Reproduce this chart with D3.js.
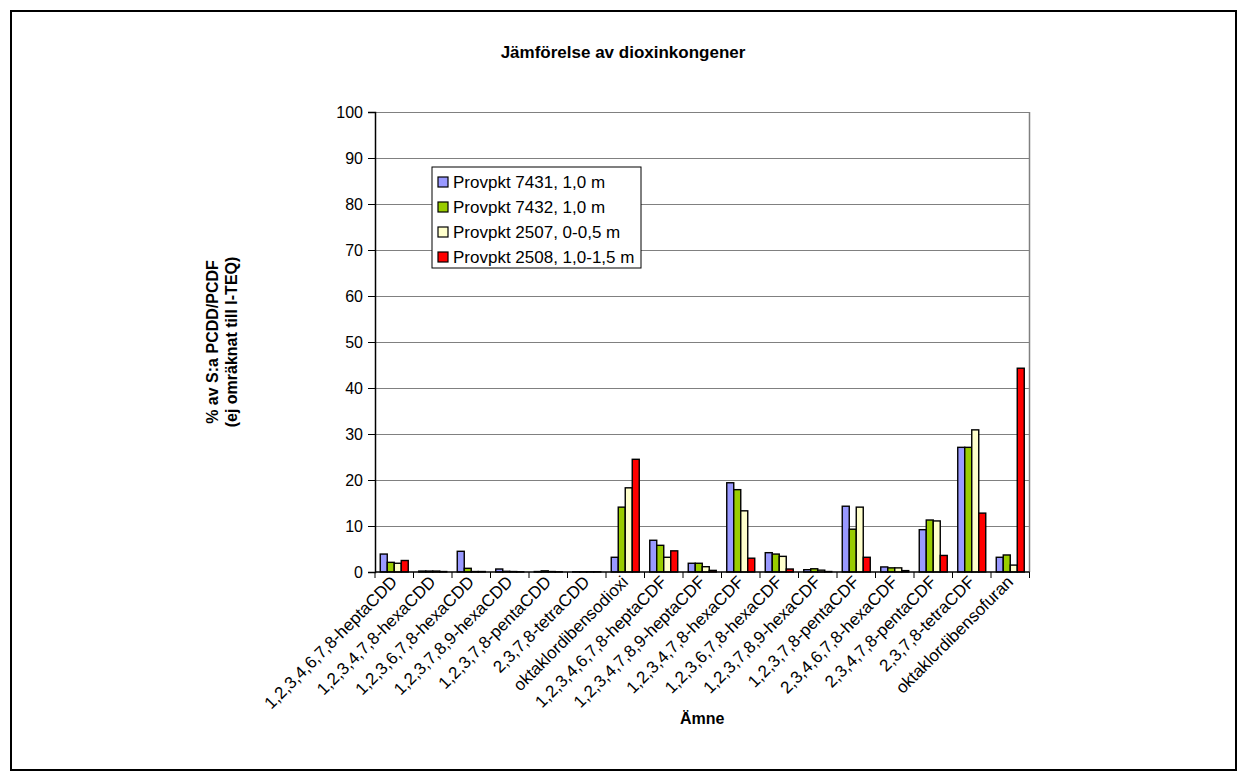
<!DOCTYPE html>
<html>
<head>
<meta charset="utf-8">
<script src="https://cdn.jsdelivr.net/npm/d3@7"></script>
<style>
  body { margin: 0; background: #fff; }
  svg { display: block; }
  text { font-family: "Liberation Sans", Arial, sans-serif; fill: #000; }
</style>
</head>
<body>
<svg id="chart" width="1247" height="776"></svg>
<script>
// Congener names (x categories)
const categories = [
  "1,2,3,4,6,7,8-heptaCDD",
  "1,2,3,4,7,8-hexaCDD",
  "1,2,3,6,7,8-hexaCDD",
  "1,2,3,7,8,9-hexaCDD",
  "1,2,3,7,8-pentaCDD",
  "2,3,7,8-tetraCDD",
  "oktaklordibensodioxi",
  "1,2,3,4,6,7,8-heptaCDF",
  "1,2,3,4,7,8,9-heptaCDF",
  "1,2,3,4,7,8-hexaCDF",
  "1,2,3,6,7,8-hexaCDF",
  "1,2,3,7,8,9-hexaCDF",
  "1,2,3,7,8-pentaCDF",
  "2,3,4,6,7,8-hexaCDF",
  "2,3,4,7,8-pentaCDF",
  "2,3,7,8-tetraCDF",
  "oktaklordibensofuran"
];

// Sampling points (series)
const seriesNames = [
  "Provpkt 7431, 1,0 m",
  "Provpkt 7432, 1,0 m",
  "Provpkt 2507, 0-0,5 m",
  "Provpkt 2508, 1,0-1,5 m"
];

// % of total PCDD/PCDF per congener
const p7431 = [3.9, 0.2, 4.5, 0.65, 0.1, 0.05, 3.2, 6.9, 1.9, 19.4, 4.2, 0.5, 14.3, 1.1, 9.2, 27.1, 3.2];
const p7432 = [2.1, 0.2, 0.8, 0.15, 0.25, 0.05, 14.1, 5.8, 1.9, 17.9, 3.9, 0.7, 9.3, 0.9, 11.3, 27.1, 3.7];
const p2507 = [1.9, 0.2, 0.1, 0.1, 0.1, 0.05, 18.3, 3.2, 1.15, 13.3, 3.4, 0.4, 14.1, 0.9, 11.1, 30.9, 1.5];
const p2508 = [2.5, 0.1, 0.1, 0.05, 0.05, 0.05, 24.5, 4.6, 0.35, 3.0, 0.65, 0.1, 3.2, 0.3, 3.6, 12.8, 44.3];

const seriesValues = [p7431, p7432, p2507, p2508];
const seriesColors = ["#9999FF", "#99CC00", "#FFFFCC", "#FF0000"];
const yTicks = [0, 10, 20, 30, 40, 50, 60, 70, 80, 90, 100];

const titleText = "Jämförelse av dioxinkongener";
const yTitleLines = ["% av S:a PCDD/PCDF", "(ej omräknat till I-TEQ)"];
const xTitleText = "Ämne";

const svg = d3.select("#chart");
const plot = { left: 375, right: 1029.5, top: 112, bottom: 572 };

// Outer chart frame
svg.append("rect")
  .attr("x", 11).attr("y", 11)
  .attr("width", 1225).attr("height", 759)
  .attr("fill", "#fff").attr("stroke", "#000").attr("stroke-width", 2);

const x = d3.scaleBand().domain(categories).range([plot.left, plot.right]).padding(0);
const gapFrac = 1.5 / 5.5; // gap width 150 % of a bar
const xs = d3.scaleBand().domain(d3.range(seriesNames.length))
  .range([x.step() * gapFrac / 2, x.step() * (1 - gapFrac / 2)]).padding(0);
const y = d3.scaleLinear().domain([0, 100]).range([plot.bottom, plot.top]);

// Gridlines
svg.append("g")
  .selectAll("line").data(yTicks.filter(d => d > 0)).join("line")
  .attr("x1", plot.left).attr("x2", plot.right)
  .attr("y1", d => Math.round(y(d)) + 0.5).attr("y2", d => Math.round(y(d)) + 0.5)
  .attr("stroke", "#808080").attr("stroke-width", 1.2);

// Right plot edge
svg.append("line")
  .attr("x1", plot.right).attr("x2", plot.right)
  .attr("y1", plot.top).attr("y2", plot.bottom)
  .attr("stroke", "#808080").attr("stroke-width", 1.5);

// Bars
const groups = svg.append("g").selectAll("g").data(categories).join("g")
  .attr("transform", d => `translate(${x(d)},0)`);
groups.selectAll("rect")
  .data((d, i) => seriesValues.map((vals, s) => ({ s, v: vals[i] })))
  .join("rect")
  .attr("x", d => xs(d.s))
  .attr("width", xs.bandwidth())
  .attr("y", d => y(d.v))
  .attr("height", d => y(0) - y(d.v))
  .attr("fill", d => seriesColors[d.s])
  .attr("stroke", "#000").attr("stroke-width", 1.4);

// Y axis
const yAxis = d3.axisLeft(y).tickValues(yTicks).tickSize(7).tickPadding(5);
const gy = svg.append("g").attr("transform", `translate(${plot.left},0)`).call(yAxis);
gy.select(".domain").attr("stroke", "#000").attr("stroke-width", 1.5);
gy.selectAll(".tick line").attr("stroke", "#000");
gy.selectAll(".tick text").attr("font-size", 16).attr("font-family", "Liberation Sans, Arial, sans-serif");

// X axis: ticks sit between categories
const xEdges = d3.range(categories.length + 1).map(i => plot.left + i * x.step());
svg.append("line")
  .attr("x1", plot.left).attr("x2", plot.right)
  .attr("y1", plot.bottom).attr("y2", plot.bottom)
  .attr("stroke", "#000").attr("stroke-width", 1.5);
svg.append("g").selectAll("line").data(xEdges).join("line")
  .attr("x1", d => d).attr("x2", d => d)
  .attr("y1", plot.bottom).attr("y2", plot.bottom + 6)
  .attr("stroke", "#000");

// Category labels
svg.append("g").selectAll("text").data(categories).join("text")
  .attr("transform", d => `translate(${x(d) + x.bandwidth() / 2 + 4},${plot.bottom + 11}) rotate(-45)`)
  .attr("text-anchor", "end")
  .attr("font-size", 17)
  .text(d => d);

// Titles
svg.append("text")
  .attr("x", 623).attr("y", 58)
  .attr("text-anchor", "middle")
  .attr("font-size", 17).attr("font-weight", "bold")
  .text(titleText);

svg.append("text")
  .attr("x", (plot.left + plot.right) / 2).attr("y", 724)
  .attr("text-anchor", "middle")
  .attr("font-size", 16).attr("font-weight", "bold")
  .text(xTitleText);

yTitleLines.forEach((t, i) => {
  svg.append("text")
    .attr("transform", `translate(${218 + i * 19},${(plot.top + plot.bottom) / 2}) rotate(-90)`)
    .attr("text-anchor", "middle")
    .attr("font-size", 16).attr("font-weight", "bold")
    .text(t);
});

// Legend
const legend = svg.append("g").attr("transform", "translate(432,167)");
legend.append("rect")
  .attr("width", 209).attr("height", 101)
  .attr("fill", "#fff").attr("stroke", "#000").attr("stroke-width", 1);
const items = legend.selectAll("g").data(seriesNames).join("g")
  .attr("transform", (d, i) => `translate(0,${15 + i * 25})`);
items.append("rect")
  .attr("x", 6).attr("y", -5).attr("width", 10).attr("height", 10)
  .attr("fill", (d, i) => seriesColors[i])
  .attr("stroke", "#000").attr("stroke-width", 1.2);
items.append("text")
  .attr("x", 21).attr("y", 0).attr("dy", "0.36em")
  .attr("font-size", 17)
  .text(d => d);
</script>
</body>
</html>
